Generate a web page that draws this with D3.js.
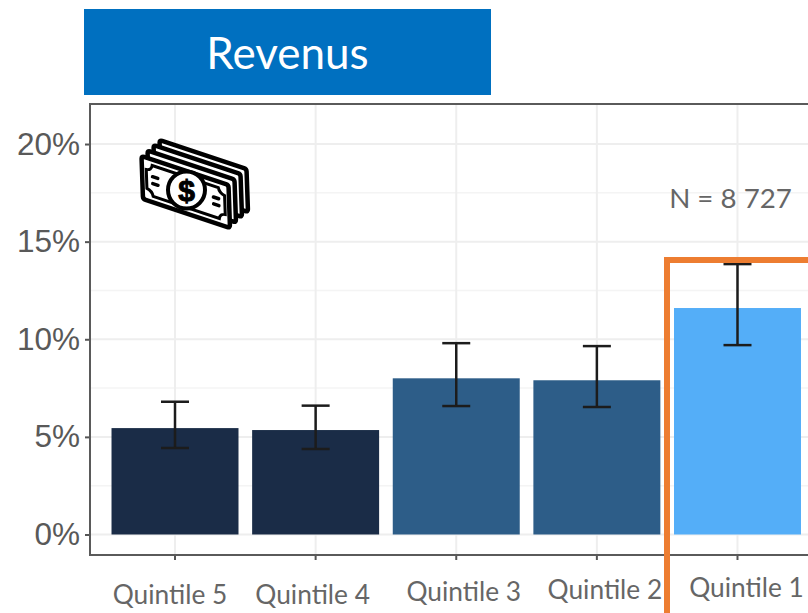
<!DOCTYPE html>
<html>
<head>
<meta charset="utf-8">
<script src="https://cdn.jsdelivr.net/npm/d3@7"></script>
<style>
  html, body { margin: 0; padding: 0; background: #fff; }
  svg { display: block; }
</style>
</head>
<body>
<div id="chart-area"></div>
<script>
// values, in percent
var quintiles = ["Quintile 5", "Quintile 4", "Quintile 3", "Quintile 2", "Quintile 1"];
var shares = [5.45, 5.35, 8.0, 7.9, 11.6];
var errLow = [4.43, 4.38, 6.58, 6.53, 9.7];
var errHigh = [6.8, 6.6, 9.8, 9.65, 13.85];
var barColors = ["#1a2c47", "#1a2c47", "#2d5d88", "#2d5d88", "#54aef8"];
var majorTicks = [0, 5, 10, 15, 20];
var minorTicks = [2.5, 7.5, 12.5, 17.5];
var titleText = "Revenus";
var noteText = "N = 8 727";

// the x labels were pasted by hand in the source slide, so they drift a bit
var labelDx = [-5, -3, 7.5, 8, 9];
var labelBaseline = [604, 604, 601, 599, 597];

var width = 808, height = 613;
var panel = {left: 90, top: 104, right: 822.5, bottom: 555};

var svg = d3.select("#chart-area").append("svg")
  .attr("width", width)
  .attr("height", height);

var x = d3.scaleBand()
  .domain(quintiles)
  .range([panel.left, panel.right])
  .paddingInner(0.097)
  .paddingOuter(0.153);
var y = d3.scaleLinear()
  .domain([-1.05, 22.05])
  .range([panel.bottom, panel.top]);
var center = (d) => x(d) + x.bandwidth() / 2;

// grid
svg.selectAll(".minor").data(minorTicks).enter().append("line")
  .attr("x1", panel.left).attr("x2", width)
  .attr("y1", (d) => y(d)).attr("y2", (d) => y(d))
  .attr("stroke", "#f4f4f4").attr("stroke-width", 1.5);
svg.selectAll(".major").data(majorTicks).enter().append("line")
  .attr("x1", panel.left).attr("x2", width)
  .attr("y1", (d) => y(d)).attr("y2", (d) => y(d))
  .attr("stroke", "#eeeeee").attr("stroke-width", 2);
svg.selectAll(".vgrid").data(quintiles).enter().append("line")
  .attr("x1", center).attr("x2", center)
  .attr("y1", panel.top).attr("y2", panel.bottom)
  .attr("stroke", "#eeeeee").attr("stroke-width", 2);

// bars
svg.selectAll(".bar").data(quintiles).enter().append("rect")
  .attr("x", (d) => x(d))
  .attr("y", (d, i) => y(shares[i]))
  .attr("width", x.bandwidth())
  .attr("height", (d, i) => y(0) - y(shares[i]))
  .attr("fill", (d, i) => barColors[i]);

// error bars
var capHalf = 14;
var errs = svg.selectAll(".err").data(quintiles).enter().append("g")
  .attr("stroke", "#1c1c1c").attr("stroke-width", 2.5);
errs.append("line")
  .attr("x1", center).attr("x2", center)
  .attr("y1", (d, i) => y(errLow[i])).attr("y2", (d, i) => y(errHigh[i]));
errs.append("line")
  .attr("x1", (d) => center(d) - capHalf).attr("x2", (d) => center(d) + capHalf)
  .attr("y1", (d, i) => y(errLow[i])).attr("y2", (d, i) => y(errLow[i]));
errs.append("line")
  .attr("x1", (d) => center(d) - capHalf).attr("x2", (d) => center(d) + capHalf)
  .attr("y1", (d, i) => y(errHigh[i])).attr("y2", (d, i) => y(errHigh[i]));

// axes
var yAxis = d3.axisLeft(y)
  .tickValues(majorTicks)
  .tickFormat((d) => d + "%")
  .tickSize(5)
  .tickPadding(5);
var yG = svg.append("g").attr("transform", "translate(" + panel.left + ",0)").call(yAxis);
yG.select(".domain").remove();
yG.selectAll("line").attr("stroke", "#555").attr("stroke-width", 2);
yG.selectAll("text")
  .attr("fill", "#595959")
  .style("font-family", "'Liberation Sans', Arial, sans-serif")
  .style("font-size", "31.5px");

var xAxis = d3.axisBottom(x).tickSize(5).tickFormat("");
var xG = svg.append("g").attr("transform", "translate(0," + panel.bottom + ")").call(xAxis);
xG.select(".domain").remove();
xG.selectAll("line").attr("stroke", "#555").attr("stroke-width", 2);

// panel border, right side is cut off by the picture
svg.append("path")
  .attr("d", d3.line()([[width, panel.top], [panel.left, panel.top], [panel.left, panel.bottom], [width, panel.bottom]]))
  .attr("fill", "none")
  .attr("stroke", "#5a5a5a")
  .attr("stroke-width", 2);

// x labels
svg.selectAll(".qlabel").data(quintiles).enter().append("text")
  .attr("x", (d, i) => center(d) + labelDx[i])
  .attr("y", (d, i) => labelBaseline[i])
  .attr("text-anchor", "middle")
  .attr("fill", "#666")
  .style("font-family", "Lato, 'Open Sans', sans-serif")
  .style("font-size", "26.3px")
  .text((d) => d);

// title box
svg.append("rect")
  .attr("x", 84).attr("y", 9)
  .attr("width", 407).attr("height", 86)
  .attr("fill", "#0070c0");
svg.append("text")
  .attr("x", 287.5).attr("y", 69)
  .attr("text-anchor", "middle")
  .attr("fill", "#fff")
  .style("font-family", "Lato, 'Open Sans', sans-serif")
  .style("font-size", "44px")
  .text(titleText);

// N note
svg.append("text")
  .attr("x", 730.5).attr("y", 208)
  .attr("text-anchor", "middle")
  .attr("fill", "#666")
  .style("font-family", "Lato, 'Open Sans', sans-serif")
  .style("font-size", "27.7px")
  .text(noteText);

// orange highlight frame, runs off the picture
svg.append("rect")
  .attr("x", 667).attr("y", 260)
  .attr("width", 300).attr("height", 500)
  .attr("fill", "none")
  .attr("stroke", "#ed7d31")
  .attr("stroke-width", 6);

// money icon: a stack of skewed bills
var bill = "M3,0 H97 Q100,0 100,3 V47 Q100,50 97,50 H3 Q0,50 0,47 V3 Q0,0 3,0 Z";
var billMatrix = "matrix(0.87,0.29,0.03,0.86,141.5,156)";
var icon = svg.append("g");
[[18, -16], [12, -11], [6, -5.5], [0, 0]].forEach((o) => {
  icon.append("path")
    .attr("d", bill)
    .attr("transform", "translate(" + o[0] + "," + o[1] + ") " + billMatrix)
    .attr("fill", "#fff")
    .attr("stroke", "#000")
    .attr("stroke-width", 4.5)
    .attr("stroke-linejoin", "round")
    .attr("vector-effect", "non-scaling-stroke");
});
var face = icon.append("g").attr("transform", billMatrix);
// scalloped inner border
face.append("path")
  .attr("d", "M12,7 H88 Q89,13 95,14 V36 Q89,37 88,43 H12 Q11,37 5,36 V14 Q11,13 12,7 Z")
  .attr("fill", "none")
  .attr("stroke", "#000")
  .attr("stroke-width", 3)
  .attr("vector-effect", "non-scaling-stroke");
[[12, 20], [12, 28], [82, 20], [82, 28]].forEach((p) => {
  face.append("line")
    .attr("x1", p[0]).attr("x2", p[0] + 6)
    .attr("y1", p[1]).attr("y2", p[1])
    .attr("stroke", "#000")
    .attr("stroke-width", 3.5)
    .attr("stroke-linecap", "round")
    .attr("vector-effect", "non-scaling-stroke");
});
icon.append("circle")
  .attr("cx", 186.5).attr("cy", 190).attr("r", 18.5)
  .attr("fill", "#fff")
  .attr("stroke", "#000")
  .attr("stroke-width", 4);
svg.append("text")
  .attr("x", 186.5).attr("y", 201)
  .attr("text-anchor", "middle")
  .attr("fill", "#000")
  .attr("stroke", "#000")
  .attr("stroke-width", 1)
  .style("font-family", "'Liberation Sans', sans-serif")
  .style("font-weight", "bold")
  .style("font-size", "30px")
  .text("$");
</script>
</body>
</html>
